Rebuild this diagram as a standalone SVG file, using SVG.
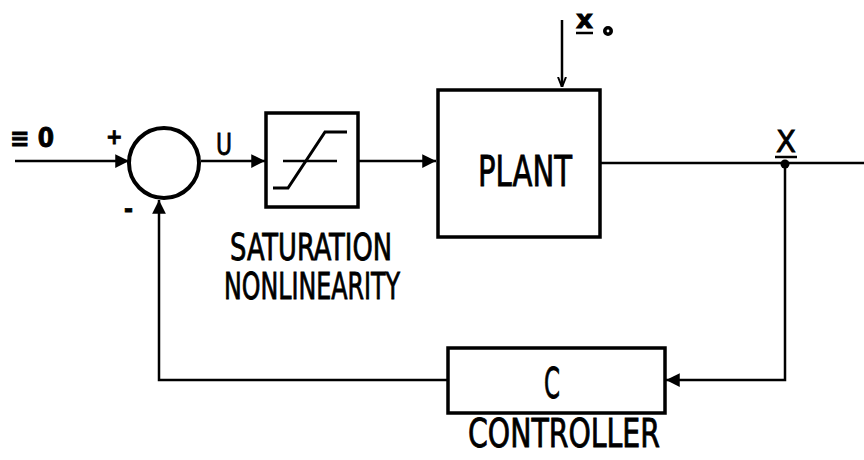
<svg xmlns="http://www.w3.org/2000/svg" width="864" height="460" viewBox="0 0 864 460">
<style>
.box{fill:none;stroke:#000;stroke-width:3.5}
.ln{fill:none;stroke:#000;stroke-width:2.5}
.t{font-family:"DejaVu Sans Condensed","Liberation Sans Narrow","Liberation Sans",sans-serif;fill:#000;stroke:#000;stroke-width:0.8}
</style>
<defs>
<marker id="ah" viewBox="0 0 10 10" refX="10" refY="5" markerWidth="8" markerHeight="5.5" markerUnits="strokeWidth" orient="auto">
<path d="M0,0 L10,5 L0,10 z" fill="#000"/>
</marker>
<marker id="ahs" viewBox="0 0 10 10" refX="10" refY="5" markerWidth="4" markerHeight="4" markerUnits="strokeWidth" orient="auto">
<path d="M0,1 L10,5 L0,9" fill="none" stroke="#000" stroke-width="2"/>
</marker>
</defs>
<rect width="864" height="460" fill="#fff"/>
<g id="connectors">
<line class="ln" x1="15" y1="161" x2="129" y2="161" marker-end="url(#ah)"/>
<line class="ln" x1="201" y1="161" x2="265" y2="161" marker-end="url(#ah)"/>
<line class="ln" x1="358" y1="161" x2="436" y2="161" marker-end="url(#ah)"/>
<line class="ln" x1="562" y1="20" x2="562" y2="87" marker-end="url(#ahs)"/>
<line class="ln" x1="600" y1="163" x2="864" y2="163"/>
<polyline class="ln" points="785,163 785,380 666,380" marker-end="url(#ah)"/>
<polyline class="ln" points="447,380 159,380 159,200" marker-end="url(#ah)"/>
<circle cx="785" cy="164" r="4.5" fill="#000"/>
</g>
<g id="input">
<text class="t" x="10" y="147" font-size="26" font-weight="bold" stroke-width="0.5">≡ 0</text>
</g>
<g id="sum">
<circle cx="164" cy="163" r="35" fill="none" stroke="#000" stroke-width="4"/>
<text class="t" x="106" y="144" font-size="22" font-weight="bold">+</text>
<text class="t" x="124" y="217" font-size="24" font-weight="bold">-</text>
</g>
<g id="u-label">
<text class="t" x="216" y="155" font-size="30" textLength="16" lengthAdjust="spacingAndGlyphs">U</text>
</g>
<g id="saturation">
<rect class="box" x="266" y="113" width="92" height="94"/>
<line x1="283" y1="161" x2="337" y2="161" stroke="#000" stroke-width="2.5"/>
<polyline points="273,188 288,188 325,132 347,132" fill="none" stroke="#000" stroke-width="3"/>
<text class="t" x="230" y="260" font-size="37" textLength="162" lengthAdjust="spacingAndGlyphs">SATURATION</text>
<text class="t" x="224" y="299" font-size="37" textLength="176" lengthAdjust="spacingAndGlyphs">NONLINEARITY</text>
</g>
<g id="plant">
<rect class="box" x="438" y="90" width="162" height="147"/>
<text class="t" x="478" y="186" font-size="43" textLength="94" lengthAdjust="spacingAndGlyphs">PLANT</text>
</g>
<g id="x0-label">
<text class="t" x="576" y="28" font-size="24" font-weight="bold" textLength="17" lengthAdjust="spacingAndGlyphs">x</text>
<line x1="576" y1="33" x2="593" y2="33" stroke="#000" stroke-width="2.5"/>
<circle cx="608" cy="31" r="3.2" fill="none" stroke="#000" stroke-width="3.6"/>
</g>
<g id="x-label">
<text class="t" x="776" y="152" font-size="30" textLength="20" lengthAdjust="spacingAndGlyphs">X</text>
<line x1="775" y1="157" x2="797" y2="157" stroke="#000" stroke-width="2.5"/>
</g>
<g id="controller">
<rect class="box" x="448" y="348" width="217" height="65"/>
<text class="t" x="544" y="398" font-size="43" textLength="16" lengthAdjust="spacingAndGlyphs">C</text>
<text class="t" x="468" y="447" font-size="39" textLength="192" lengthAdjust="spacingAndGlyphs">CONTROLLER</text>
</g>
</svg>
